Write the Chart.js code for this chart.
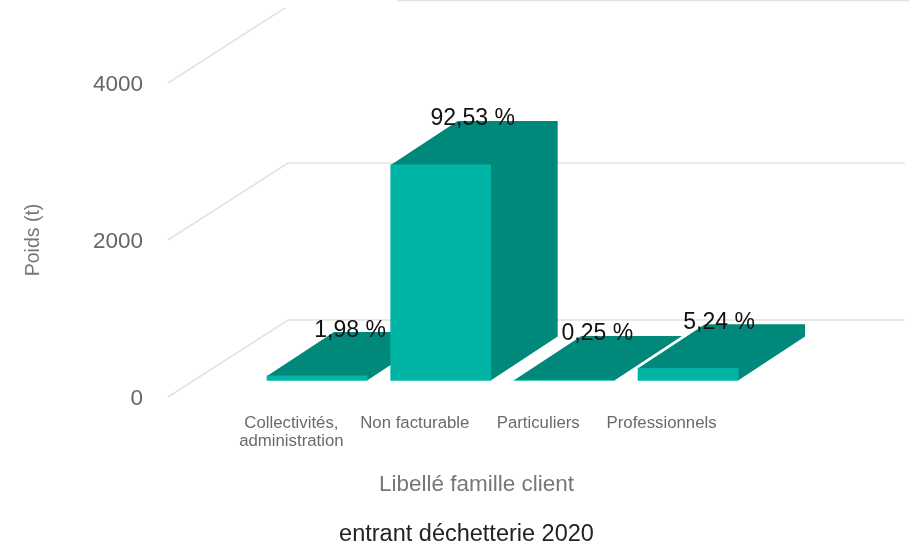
<!DOCTYPE html>
<html lang="fr">
<head>
<meta charset="utf-8">
<title>entrant déchetterie 2020</title>
<style>
html,body{margin:0;padding:0;background:#fff;}
#wrap{position:relative;width:909px;height:545px;}
#c{filter:blur(0.35px);}
</style>
<script src="https://cdn.jsdelivr.net/npm/chart.js@4"></script>
</head>
<body>
<div id="wrap"><canvas id="c" width="909" height="545"></canvas></div>
<script>
const categories = [['Collectivités,', 'administration'], 'Non facturable', 'Particuliers', 'Professionnels'];
const weights = [59, 2747, 7, 156];
const shareLabels = ['1,98 %', '92,53 %', '0,25 %', '5,24 %'];
const yTicks = [0, 2000, 4000];
const yTitle = 'Poids (t)';
const xTitle = 'Libellé famille client';
const chartTitle = 'entrant déchetterie 2020';

const FONT = '"Liberation Sans", Arial, sans-serif';
const FRONT = '#00B5A6';
const DARK = '#00897B';
const GRID = '#E2E2E2';
const WALL = {dx: 120, dy: 77};
const BAR = {dx: 67, dy: 44};
const LABEL_OFF = [{x: 33, y: 1}, {x: 32, y: 2}, {x: 33, y: 2}, {x: 31, y: 2}];

const depthPlugin = {
  id: 'depth',
  beforeDatasetsDraw(chart) {
    const {ctx, chartArea} = chart;
    const y = chart.scales.y;
    ctx.save();
    ctx.beginPath();
    ctx.rect(0, 8, chart.width, chart.height);
    ctx.clip();
    ctx.strokeStyle = GRID;
    ctx.lineWidth = 1.5;
    yTicks.forEach(v => {
      const py = y.getPixelForValue(v);
      ctx.beginPath();
      ctx.moveTo(chartArea.left, py);
      ctx.lineTo(chartArea.left + WALL.dx, py - WALL.dy);
      ctx.lineTo(chartArea.right + WALL.dx, py - WALL.dy);
      ctx.stroke();
    });
    ctx.restore();
    ctx.save();
    ctx.strokeStyle = GRID;
    ctx.lineWidth = 1.5;
    ctx.beginPath();
    ctx.moveTo(397, 0.5);
    ctx.lineTo(chart.width, 0.5);
    ctx.stroke();
    ctx.fillStyle = DARK;
    chart.getDatasetMeta(0).data.forEach(bar => {
      const l = bar.x - bar.width / 2, r = bar.x + bar.width / 2;
      const t = bar.y, b = bar.base;
      ctx.beginPath();
      ctx.moveTo(l, t);
      ctx.lineTo(l + BAR.dx, t - BAR.dy);
      ctx.lineTo(r + BAR.dx, t - BAR.dy);
      ctx.lineTo(r + BAR.dx, b - BAR.dy);
      ctx.lineTo(r, b);
      ctx.lineTo(r, t);
      ctx.closePath();
      ctx.fill();
    });
    ctx.restore();
  },
  afterDatasetsDraw(chart) {
    const {ctx} = chart;
    ctx.save();
    ctx.font = '23px ' + FONT;
    ctx.fillStyle = '#111';
    ctx.textAlign = 'center';
    ctx.textBaseline = 'middle';
    chart.getDatasetMeta(0).data.forEach((bar, i) => {
      ctx.fillText(shareLabels[i], bar.x + LABEL_OFF[i].x, bar.y - BAR.dy - LABEL_OFF[i].y);
    });
    ctx.restore();
  }
};

new Chart(document.getElementById('c'), {
  type: 'bar',
  plugins: [depthPlugin],
  data: {
    labels: ['', ...categories, ''],
    datasets: [{
      data: weights.map((w, i) => ({x: i + 1, y: w})),
      xAxisID: 'xb',
      yAxisID: 'yb',
      backgroundColor: FRONT,
      borderWidth: 0,
      barThickness: 100
    }]
  },
  options: {
    responsive: false,
    animation: false,
    layout: {padding: {top: 83, left: 24, right: 0, bottom: 0}},
    plugins: {
      legend: {display: false},
      tooltip: {enabled: false},
      title: {
        display: true,
        text: chartTitle,
        position: 'bottom',
        color: '#222',
        font: {family: FONT, size: 23.5, weight: 'normal', lineHeight: 1},
        padding: {top: 1, bottom: -1}
      }
    },
    scales: {
      x: {
        type: 'category',
        offset: false,
        position: 'bottom',
        grid: {display: false},
        border: {display: false},
        afterFit(s) { s.height = 124.5; },
        ticks: {
          autoSkip: false,
          maxRotation: 0,
          minRotation: 0,
          padding: 9,
          color: '#6A6A6A',
          font: {family: FONT, size: 16.8, lineHeight: 1.1}
        },
        title: {
          display: true,
          text: xTitle,
          color: '#777',
          font: {family: FONT, size: 22.5, lineHeight: 1},
          padding: {top: 0, bottom: 25}
        }
      },
      xb: {
        type: 'linear',
        offset: false,
        display: false,
        min: -0.205,
        max: 4.784,
        grid: {display: false}
      },
      y: {
        type: 'linear',
        position: 'left',
        min: 0,
        max: 4000,
        afterFit(s) { s.width = 144; },
        afterBuildTicks(s) { s.ticks = yTicks.map(v => ({value: v})); },
        grid: {display: false},
        border: {display: false},
        ticks: {
          padding: 17,
          labelOffset: 2,
          color: '#666',
          font: {family: FONT, size: 22.5},
          callback: v => String(v)
        },
        title: {
          display: true,
          text: yTitle,
          color: '#777',
          font: {family: FONT, size: 19.5, lineHeight: 1},
          padding: 0
        }
      },
      yb: {
        type: 'linear',
        position: 'right',
        min: -210,
        max: 3790,
        afterFit(s) { s.width = 124; },
        grid: {display: false},
        border: {display: false},
        ticks: {display: false}
      }
    }
  }
});
</script>
</body>
</html>
